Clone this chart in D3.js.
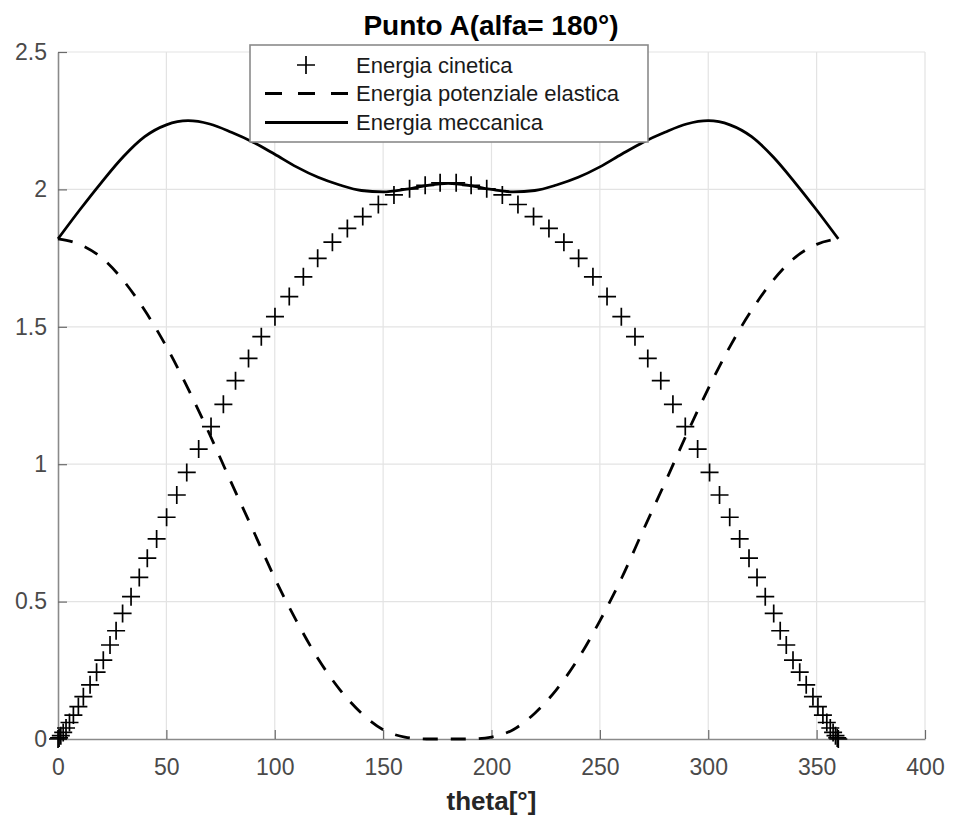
<!DOCTYPE html>
<html>
<head>
<meta charset="utf-8">
<script src="https://cdn.jsdelivr.net/npm/d3@7"></script>
<style>
  body { margin: 0; background: #fff; }
  svg { display: block; font-family: "Liberation Sans", Arial, sans-serif; }
</style>
</head>
<body>
<svg></svg>
<script>
// kinetic energy samples (markers)
const thetaKin = [0, 0.5, 1.3, 2.4, 3.7, 5.3, 7.1, 9.4, 11.7, 14.8, 17.8, 20.9, 24.0, 26.8, 29.8, 33.7, 37.5, 41.2,
  45.5, 50.1, 54.8, 59.4, 64.9, 70.6, 76.3, 81.9, 87.9, 93.8, 100.1, 106.7, 113.2, 119.8, 126.6, 133.5, 140.6,
  147.8, 155.0, 162.2, 169.4, 176.3, 183.7, 190.6, 197.8, 205.0, 212.2, 219.4, 226.5, 233.4, 240.2, 246.8, 253.3,
  259.9, 266.2, 272.1, 278.1, 283.7, 289.4, 295.1, 300.6, 305.2, 309.9, 314.5, 318.8, 322.5, 326.3, 330.2, 333.2,
  336.0, 339.1, 342.2, 345.2, 348.3, 350.6, 352.9, 354.7, 356.3, 357.6, 358.7, 359.5, 360];
const energiaCinetica = [0, 0.004, 0.012, 0.024, 0.040, 0.060, 0.087, 0.118, 0.154, 0.197, 0.243, 0.287, 0.342, 0.394,
  0.457, 0.518, 0.588, 0.658, 0.728, 0.807, 0.888, 0.970, 1.055, 1.137, 1.218, 1.304, 1.385, 1.464, 1.537, 1.610,
  1.682, 1.749, 1.808, 1.858, 1.901, 1.945, 1.980, 2.002, 2.015, 2.024, 2.024, 2.015, 2.002, 1.980, 1.945, 1.901,
  1.858, 1.808, 1.749, 1.682, 1.610, 1.537, 1.464, 1.385, 1.304, 1.218, 1.137, 1.055, 0.970, 0.888, 0.807, 0.728,
  0.658, 0.588, 0.518, 0.457, 0.394, 0.342, 0.287, 0.243, 0.197, 0.154, 0.118, 0.087, 0.060, 0.040, 0.024, 0.012,
  0.004, 0];

// potential and mechanical energy (lines)
const thetaLine = [0, 10, 20, 30, 40, 50, 60, 70, 80, 90, 100, 110, 120, 130, 140, 150, 160, 170, 180,
  190, 200, 210, 220, 230, 240, 250, 260, 270, 280, 290, 300, 310, 320, 330, 340, 350, 360];
const energiaPotenziale = [1.820, 1.800, 1.752, 1.670, 1.560, 1.428, 1.275, 1.108, 0.932, 0.760, 0.585, 0.430, 0.292,
  0.180, 0.094, 0.034, 0.007, 0.000, 0.000, 0.000, 0.007, 0.034, 0.094, 0.180, 0.292, 0.430, 0.585, 0.760, 0.932,
  1.108, 1.275, 1.428, 1.560, 1.670, 1.752, 1.800, 1.820];
const energiaMeccanica = [1.820, 1.925, 2.025, 2.118, 2.192, 2.235, 2.250, 2.238, 2.208, 2.172, 2.128, 2.082, 2.044,
  2.016, 1.996, 1.991, 2.000, 2.014, 2.022, 2.014, 2.000, 1.991, 1.996, 2.016, 2.044, 2.082, 2.128, 2.172, 2.208,
  2.238, 2.250, 2.235, 2.192, 2.118, 2.025, 1.925, 1.820];

const xTicks = [0, 50, 100, 150, 200, 250, 300, 350, 400];
const yTicks = [0, 0.5, 1, 1.5, 2, 2.5];
const legendLabels = ["Energia cinetica", "Energia potenziale elastica", "Energia meccanica"];

const margin = { top: 52, right: 29, bottom: 81, left: 58 };
const width = 954 - margin.left - margin.right;
const height = 820 - margin.top - margin.bottom;

const root = d3.select("svg").attr("width", 954).attr("height", 820);
const svg = root.append("g").attr("transform", `translate(${margin.left},${margin.top})`);

const x = d3.scaleLinear().domain([0, 400]).range([0, width]);
const y = d3.scaleLinear().domain([0, 2.5]).range([height, 0]);

// grid
svg.append("g").selectAll("line").data(xTicks.slice(1)).join("line")
  .attr("x1", d => x(d)).attr("x2", d => x(d)).attr("y1", 0).attr("y2", height)
  .attr("stroke", "#e3e3e3").attr("stroke-width", 1.2);
svg.append("g").selectAll("line").data(yTicks.slice(1)).join("line")
  .attr("x1", 0).attr("x2", width).attr("y1", d => y(d)).attr("y2", d => y(d))
  .attr("stroke", "#e3e3e3").attr("stroke-width", 1.2);

const xAxis = d3.axisBottom(x).tickValues(xTicks).tickFormat(d3.format("d"))
  .tickSizeInner(-9).tickSizeOuter(0).tickPadding(20);
const yAxis = d3.axisLeft(y).tickValues(yTicks).tickFormat(d => String(d))
  .tickSizeInner(-9).tickSizeOuter(0).tickPadding(11);

const gx = svg.append("g").attr("transform", `translate(0,${height})`).call(xAxis);
const gy = svg.append("g").call(yAxis);
[gx, gy].forEach(g => {
  g.select(".domain").attr("stroke", "#8a8a8a").attr("stroke-width", 1.6);
  g.selectAll(".tick line").attr("stroke", "#6a6a6a").attr("stroke-width", 1.2);
  g.selectAll(".tick text").attr("fill", "#4a4a4a").style("font-size", "23px")
    .style("font-family", "'Liberation Sans', Arial, sans-serif");
});

// lines
const line = d3.line().curve(d3.curveMonotoneX);

svg.append("path")
  .attr("d", line(thetaLine.map((t, i) => [x(t), y(energiaPotenziale[i])])))
  .attr("fill", "none").attr("stroke", "#000").attr("stroke-width", 2.8)
  .attr("stroke-dasharray", "15,13");

svg.append("path")
  .attr("d", line(thetaLine.map((t, i) => [x(t), y(energiaMeccanica[i])])))
  .attr("fill", "none").attr("stroke", "#000").attr("stroke-width", 2.8);

const plus = d3.symbol().type(d3.symbolCross);
const ms = 9;
svg.append("g").selectAll("path").data(thetaKin).join("path")
  .attr("d", (t, i) => {
    const cx = x(t), cy = y(energiaCinetica[i]);
    return `M${cx - ms},${cy}H${cx + ms}M${cx},${cy - ms}V${cy + ms}`;
  })
  .attr("stroke", "#000").attr("stroke-width", 1.7).attr("fill", "none");

// title and label
root.append("text").attr("x", 491).attr("y", 35).attr("text-anchor", "middle")
  .style("font-size", "28px").style("font-weight", "bold").attr("fill", "#000")
  .text("Punto A(alfa= 180°)");
root.append("text").attr("x", margin.left + width / 2).attr("y", 810).attr("text-anchor", "middle")
  .style("font-size", "26px").style("font-weight", "bold").attr("fill", "#262626")
  .text("theta[°]");

// legend
const lg = root.append("g").attr("transform", "translate(250,45)");
lg.append("rect").attr("width", 398).attr("height", 97)
  .attr("fill", "#fff").attr("stroke", "#8a8a8a").attr("stroke-width", 1.6);
const rowY = [20, 48.5, 77.5];
lg.append("path")
  .attr("d", `M${56 - ms},${rowY[0]}H${56 + ms}M56,${rowY[0] - ms}V${rowY[0] + ms}`)
  .attr("stroke", "#000").attr("stroke-width", 1.7);
lg.append("line").attr("x1", 15).attr("x2", 98).attr("y1", rowY[1]).attr("y2", rowY[1])
  .attr("stroke", "#000").attr("stroke-width", 2.8).attr("stroke-dasharray", "17,16");
lg.append("line").attr("x1", 15).attr("x2", 98).attr("y1", rowY[2]).attr("y2", rowY[2])
  .attr("stroke", "#000").attr("stroke-width", 2.8);
lg.selectAll("text.lab").data(legendLabels).join("text").attr("class", "lab")
  .attr("x", 106).attr("y", (d, i) => rowY[i]).attr("dy", "0.36em")
  .style("font-size", "22px").attr("fill", "#1a1a1a").text(d => d);
</script>
</body>
</html>
